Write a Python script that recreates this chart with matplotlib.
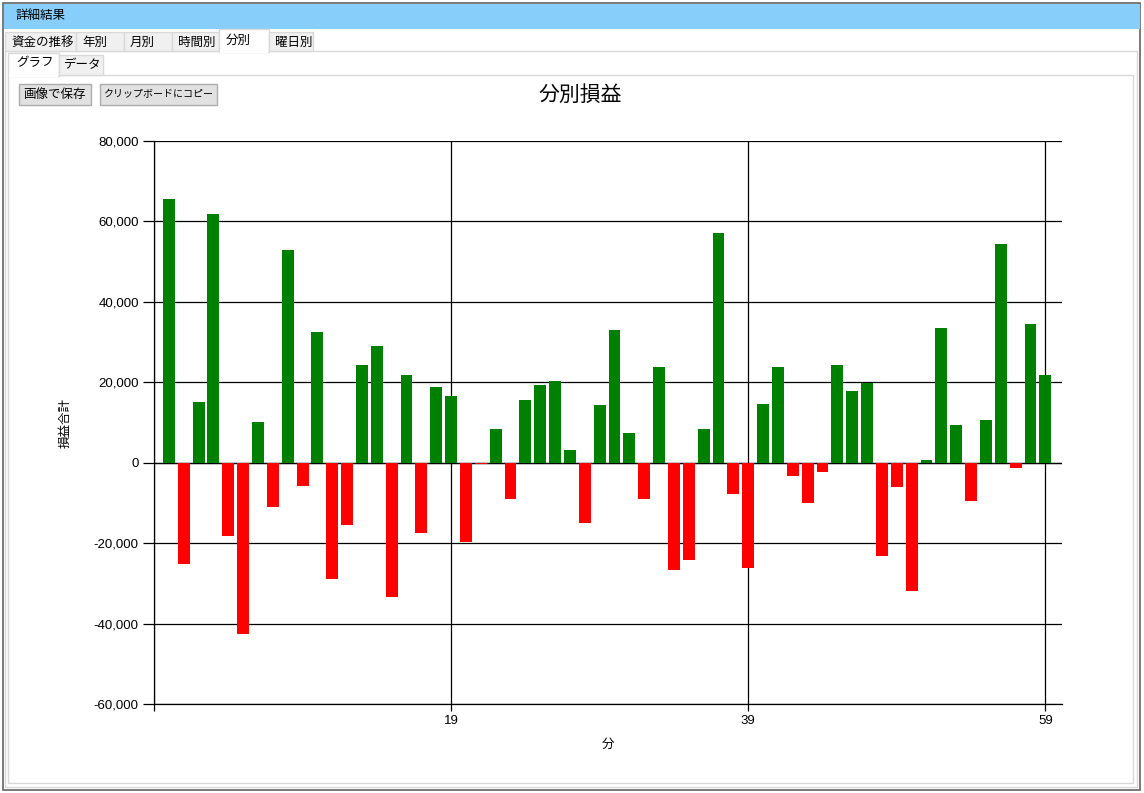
import matplotlib
matplotlib.use("Agg")
import matplotlib.pyplot as plt
from matplotlib.patches import Rectangle
from matplotlib.ticker import FuncFormatter

plt.rcParams['font.family'] = ['Noto Sans CJK JP', 'DejaVu Sans']

# ---- data ----
minutes = list(range(60))
profits = [
    65700, -25100, 15200, 61800, -18100, -42500, 10000, -11100, 53000, -5900,
    32400, -29000, -15600, 24400, 29100, -33500, 21700, -17600, 18900, 16700,
    -19800, -300, 8500, -8900, 15700, 19400, 20400, 3200, -14900, 14400,
    33100, 7500, -8900, 23700, -26800, -24300, 8500, 57000, -7900, -26300,
    14700, 23700, -3200, -10100, -2200, 24400, 17900, 19900, -23100, -6100,
    -31800, 750, 33600, 9500, -9600, 10500, 54500, -1400, 34600, 21700,
]
x_ticks = [-1, 19, 39, 59]
x_tick_labels = ['', '19', '39', '59']
y_ticks = [-60000, -40000, -20000, 0, 20000, 40000, 60000, 80000]
chart_title = "分別損益"
x_title = "分"
y_title = "損益合計"
window_title = "詳細結果"
tabs = ["資金の推移", "年別", "月別", "時間別", "分別", "曜日別"]
sub_tabs = ["グラフ", "データ"]
buttons = ["画像で保存", "クリップボードにコピー"]

W, H = 1144, 793
fig = plt.figure(figsize=(W / 100, H / 100), dpi=100)
fig.patch.set_facecolor('white')

# ---- UI overlay in pixel coords ----
ui = fig.add_axes([0, 0, 1, 1], zorder=0)
ui.set_xlim(0, W)
ui.set_ylim(H, 0)
ui.axis('off')

def rect(x0, y0, x1, y1, fc='none', ec='none', lw=1.0, z=1):
    ui.add_patch(Rectangle((x0, y0), x1 - x0, y1 - y0, facecolor=fc,
                           edgecolor=ec, linewidth=lw, zorder=z))

# outer window
rect(3, 3, 1140, 790, fc='white', ec='#646464', lw=1.2, z=1)
rect(3.5, 3.5, 1139.5, 29, fc='#87CEFA', z=2)
ui.text(16, 16, window_title, fontsize=9, va='center', ha='left', zorder=3)

# tab content frame
rect(5, 51, 1137, 787, fc='white', ec='#D9D9D9', lw=1, z=2)
# inner panel frame
rect(8, 75, 1133, 783, fc='white', ec='#D9D9D9', lw=1, z=3)

tab_x = [5, 76, 124, 172, 219, 269, 313]
for i, t in enumerate(tabs):
    x0, x1 = tab_x[i], tab_x[i + 1]
    if t == "分別":
        rect(x0, 29, x1, 52, fc='white', ec='#D9D9D9', lw=1, z=4)
        rect(x0 + 0.6, 50, x1 - 0.6, 53, fc='white', z=5)
        ui.text(x0 + 7, 40, t, fontsize=9, va='center', ha='left', zorder=6)
    else:
        rect(x0, 32, x1, 51, fc='#F0F0F0', ec='#D9D9D9', lw=1, z=4)
        ui.text(x0 + 6, 42, t, fontsize=9, va='center', ha='left', zorder=6)

# sub tabs
rect(8, 53, 59, 76, fc='white', ec='#D9D9D9', lw=1, z=4)
rect(8.6, 74, 58.4, 77, fc='white', z=5)
ui.text(16, 63, sub_tabs[0], fontsize=9, va='center', ha='left', zorder=6)
rect(59, 55, 103, 75, fc='#F0F0F0', ec='#D9D9D9', lw=1, z=4)
ui.text(64, 65, sub_tabs[1], fontsize=9, va='center', ha='left', zorder=6)

# buttons
btn_x = [(19, 91), (100, 217)]
btn_fs = [9, 7.2]
for (x0, x1), b, fs in zip(btn_x, buttons, btn_fs):
    rect(x0, 84, x1, 105, fc='#E1E1E1', ec='#ADADAD', lw=1, z=4)
    ui.text((x0 + x1) / 2, 94.5, b, fontsize=fs, va='center', ha='center', zorder=6)

# chart title and axis titles
ui.text(580, 95, chart_title, fontsize=15, va='center', ha='center', zorder=6)
ui.text(608, 744, x_title, fontsize=9, va='center', ha='center', zorder=6)
ui.text(65, 423, y_title, fontsize=9, va='center', ha='center', rotation=90, zorder=6)

# ---- chart axes ----
left, right, top, bottom = 154, 1061.7, 141, 704
ax = fig.add_axes([left / W, (H - bottom) / H, (right - left) / W, (bottom - top) / H], zorder=2)
ax.set_facecolor('none')
colors = ['#008000' if v >= 0 else '#FF0000' for v in profits]
ax.bar(minutes, profits, width=0.8, color=colors, zorder=3)
ax.set_xlim(-1, 60.1)
ax.set_ylim(-60000, 80000)
ax.set_xticks(x_ticks)
ax.set_xticklabels(x_tick_labels, family=['Liberation Sans', 'DejaVu Sans'], fontsize=9.5)
ax.set_yticks(y_ticks)
ax.yaxis.set_major_formatter(FuncFormatter(lambda v, p: f"{int(v):,}"))
for lab in ax.get_yticklabels():
    lab.set_family(['Liberation Sans', 'DejaVu Sans'])
    lab.set_fontsize(9.5)
ax.grid(True, color='black', linewidth=0.9, zorder=1)
ax.set_axisbelow(True)
for s in ['top', 'right']:
    ax.spines[s].set_visible(False)
for s in ['left', 'bottom']:
    ax.spines[s].set_color('black')
    ax.spines[s].set_linewidth(0.9)
ax.tick_params(axis='y', length=8, width=0.9, pad=3, colors='black')
ax.tick_params(axis='x', length=5, width=0.9, pad=3, colors='black')
ax.axhline(0, color='black', linewidth=0.9, zorder=2)

fig.savefig('out.png', dpi=100)
